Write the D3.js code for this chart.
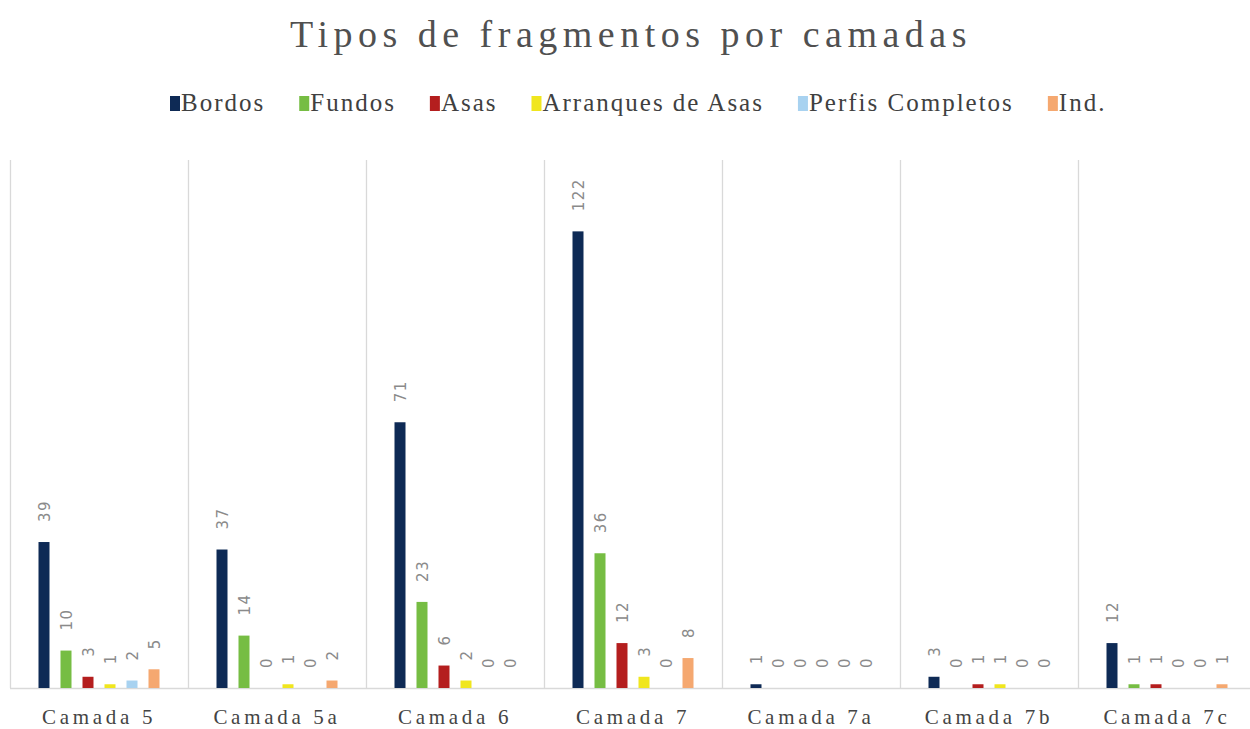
<!DOCTYPE html>
<html><head><meta charset="utf-8">
<script src="https://cdn.jsdelivr.net/npm/d3@7"></script>
<style>body{margin:0;background:#fff}svg{display:block}
.serif{font-family:"Liberation Serif","Times New Roman","DejaVu Serif",serif}
</style>
</head><body>
<svg id="c" width="1250" height="729"></svg>
<script>
const categories = ["Camada 5","Camada 5a","Camada 6","Camada 7","Camada 7a","Camada 7b","Camada 7c"];
const seriesNames = ["Bordos","Fundos","Asas","Arranques de Asas","Perfis Completos","Ind."];
const bordos = [39,37,71,122,1,3,12];
const fundos = [10,14,23,36,0,0,1];
const asas = [3,0,6,12,0,1,1];
const arranques = [1,1,2,3,0,1,0];
const perfis = [2,0,0,0,0,0,0];
const ind = [5,2,0,8,0,0,1];
const colors = ["#0e2a55","#76bd43","#b41e1e","#f0e61e","#a8d2f0","#f5a870"];
const seriesValues = [bordos,fundos,asas,arranques,perfis,ind];

const svg = d3.select("#c");
const mLeft = 10, mRight = 1256, mTop = 164, mBottom = 688;
const x0 = d3.scaleBand().domain(categories).range([mLeft,mRight]).padding(0);
const x1 = d3.scaleBand().domain(seriesNames).range([23, x0.bandwidth()-23]).paddingInner(0.5).paddingOuter(0.25);
const y = d3.scaleLinear().domain([0,140]).range([mBottom,mTop]);

// title
svg.append("text").attr("class","serif").attr("x",631).attr("y",47).attr("text-anchor","middle")
  .style("font-size","38px")
  .style("letter-spacing","5.5px").attr("fill","#505050").text("Tipos de fragmentos por camadas");

// gridlines
const grid = svg.append("g");
categories.forEach(c=>{
  grid.append("line").attr("x1",x0(c)+0.5).attr("x2",x0(c)+0.5).attr("y1",160).attr("y2",mBottom).attr("stroke","#d9d9d9").attr("stroke-width",1.3);
});
grid.append("line").attr("x1",mRight).attr("x2",mRight).attr("y1",160).attr("y2",mBottom).attr("stroke","#d9d9d9");
grid.append("line").attr("x1",mLeft).attr("x2",1250).attr("y1",mBottom+0.5).attr("y2",mBottom+0.5).attr("stroke","#d9d9d9").attr("stroke-width",1.5);

// bars
seriesNames.forEach((s,si)=>{
  const g = svg.append("g");
  categories.forEach((c,ci)=>{
    const v = seriesValues[si][ci];
    const bx = x0(c)+x1(s);
    g.append("rect").attr("x",bx).attr("y",y(v)).attr("width",x1.bandwidth()).attr("height",mBottom-y(v)).attr("fill",colors[si]);
    svg.append("text")
      .attr("transform",`translate(${bx+x1.bandwidth()/2+6},${y(v)-20}) rotate(-90)`)
      .attr("text-anchor","start")
      .style("font-family","'DejaVu Sans',sans-serif").style("font-size","15px").style("letter-spacing","1.5px")
      .attr("fill","#8a8a8a").text(v);
  });
});

// category labels
categories.forEach(c=>{
  svg.append("text").attr("class","serif").attr("x",x0(c)+x0.bandwidth()/2).attr("y",724).attr("text-anchor","middle")
    .style("font-size","21px").style("letter-spacing","3.7px")
    .attr("fill","#444").text(c);
});

// legend
const lg = svg.append("g");
let lx = 170;
seriesNames.forEach((s,si)=>{
  lg.append("rect").attr("x",lx).attr("y",96).attr("width",10).attr("height",15).attr("fill",colors[si]);
  const t = lg.append("text").attr("class","serif").attr("x",lx+11).attr("y",111)
    .style("font-size","25px").style("letter-spacing","2px")
    .attr("fill","#404040").text(s);
  lx += 11 + t.node().getComputedTextLength() + 34;
});
</script>
</body></html>
